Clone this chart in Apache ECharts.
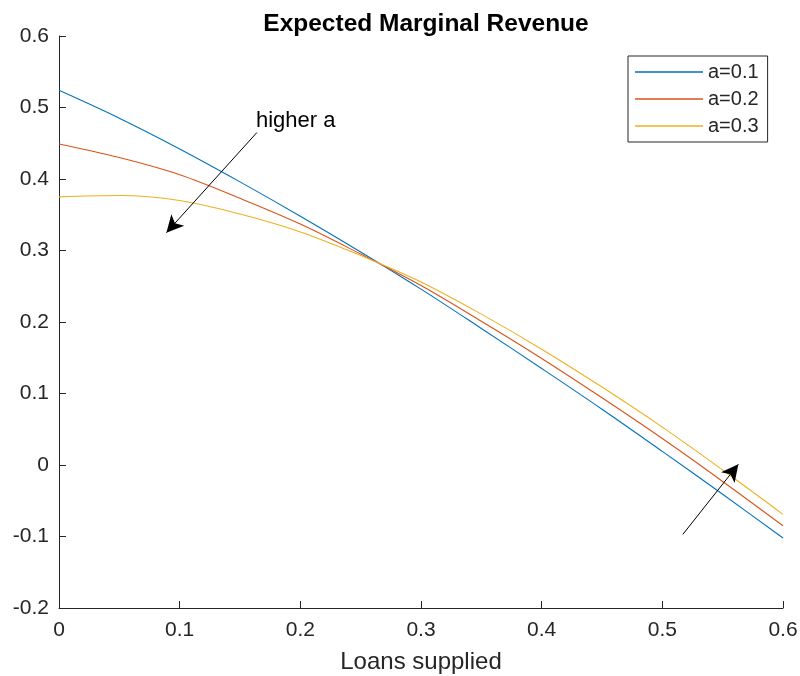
<!DOCTYPE html>
<html>
<head>
<meta charset="utf-8">
<title>Expected Marginal Revenue</title>
<script src="https://cdn.jsdelivr.net/npm/echarts@6/dist/echarts.min.js"></script>
<style>
  html, body { margin: 0; padding: 0; background: #fff; }
  #chart { width: 800px; height: 676px; }
</style>
</head>
<body>
<div id="chart"></div>
<script>
// Loans supplied (x) and expected marginal revenue for each value of a
const loans = [0, 0.05, 0.1, 0.15, 0.2, 0.25, 0.3, 0.35, 0.4, 0.45, 0.5, 0.55, 0.6];
const revA01 = [0.524, 0.485, 0.442, 0.396, 0.348, 0.298, 0.246, 0.191, 0.135, 0.078, 0.019, -0.041, -0.102];
const revA02 = [0.449, 0.430, 0.406, 0.373, 0.337, 0.295, 0.251, 0.201, 0.149, 0.094, 0.037, -0.023, -0.085];
const revA03 = [0.375, 0.377, 0.370, 0.351, 0.326, 0.293, 0.256, 0.211, 0.162, 0.109, 0.053, -0.007, -0.069];
const seriesNames = ['a=0.1', 'a=0.2', 'a=0.3'];
const seriesColors = ['#0072BD', '#D95319', '#EDB120'];

// Annotation arrows: [from, to] in data coordinates
const arrowDown = [[0.164, 0.465], [0.089, 0.325]];
const arrowUp = [[0.517, -0.097], [0.563, 0.001]];
const annotationText = 'higher a';

const textColor = '#262626';
const fontFamily = 'Liberation Sans, Arial, sans-serif';

function pairs(xs, ys) {
  return xs.map((x, i) => [x, ys[i]]);
}

function arrowLine(seg) {
  return [{ coord: seg[0] }, { coord: seg[1] }];
}

const curves = [revA01, revA02, revA03].map((vals, i) => ({
  name: seriesNames[i],
  type: 'line',
  data: pairs(loans, vals),
  smooth: 0.35,
  symbol: 'none',
  lineStyle: { color: seriesColors[i], width: 1.1 },
  itemStyle: { color: seriesColors[i] },
  z: 2
}));

// Arrows drawn as a mark line on an empty helper series
curves.push({
  name: 'arrows',
  type: 'line',
  data: [],
  silent: true,
  markLine: {
    silent: true,
    symbol: ['none', 'arrow'],
    symbolSize: [13, 17],
    label: { show: false },
    lineStyle: { color: '#000', width: 1, type: 'solid' },
    itemStyle: { color: '#000' },
    emphasis: { disabled: true },
    data: [arrowLine(arrowDown), arrowLine(arrowUp)]
  },
  z: 5
});

const chart = echarts.init(document.getElementById('chart'), null, { renderer: 'canvas' });
chart.setOption({
  animation: false,
  backgroundColor: '#fff',
  textStyle: { fontFamily: fontFamily },
  title: {
    text: 'Expected Marginal Revenue',
    left: 421,
    textAlign: 'center',
    top: 7,
    textStyle: { fontSize: 24.5, fontWeight: 'bold', color: '#000', fontFamily: fontFamily }
  },
  grid: { left: 59, right: 17, top: 36, bottom: 68, outerBoundsMode: 'none', containLabel: false },
  legend: {
    data: seriesNames,
    icon: 'rect',
    orient: 'vertical',
    left: 628,
    top: 56,
    itemWidth: 68,
    itemHeight: 1.5,
    itemGap: 7,
    padding: [6, 9, 6, 7],
    borderColor: '#262626',
    borderWidth: 1,
    backgroundColor: '#fff',
    textStyle: { fontSize: 20, color: textColor, fontFamily: fontFamily, padding: [0, 0, 0, 0] }
  },
  xAxis: {
    type: 'value',
    min: 0,
    max: 0.6,
    interval: 0.1,
    name: 'Loans supplied',
    nameLocation: 'middle',
    nameGap: 42,
    nameTextStyle: { fontSize: 24, color: textColor },
    axisLine: { show: true, onZero: false, lineStyle: { color: textColor, width: 1 } },
    axisTick: { show: true, inside: true, length: 7, lineStyle: { color: textColor } },
    axisLabel: { fontSize: 21, color: textColor, margin: 12 },
    splitLine: { show: false }
  },
  yAxis: {
    type: 'value',
    min: -0.2,
    max: 0.6,
    interval: 0.1,
    axisLine: { show: true, onZero: false, lineStyle: { color: textColor, width: 1 } },
    axisTick: { show: true, inside: true, length: 7, lineStyle: { color: textColor } },
    axisLabel: { fontSize: 21, color: textColor, margin: 10 },
    splitLine: { show: false }
  },
  graphic: [{
    type: 'text',
    left: 256,
    top: 110,
    style: { text: annotationText, fontSize: 22, fill: '#000', fontFamily: fontFamily }
  }],
  series: curves
});
</script>
</body>
</html>
